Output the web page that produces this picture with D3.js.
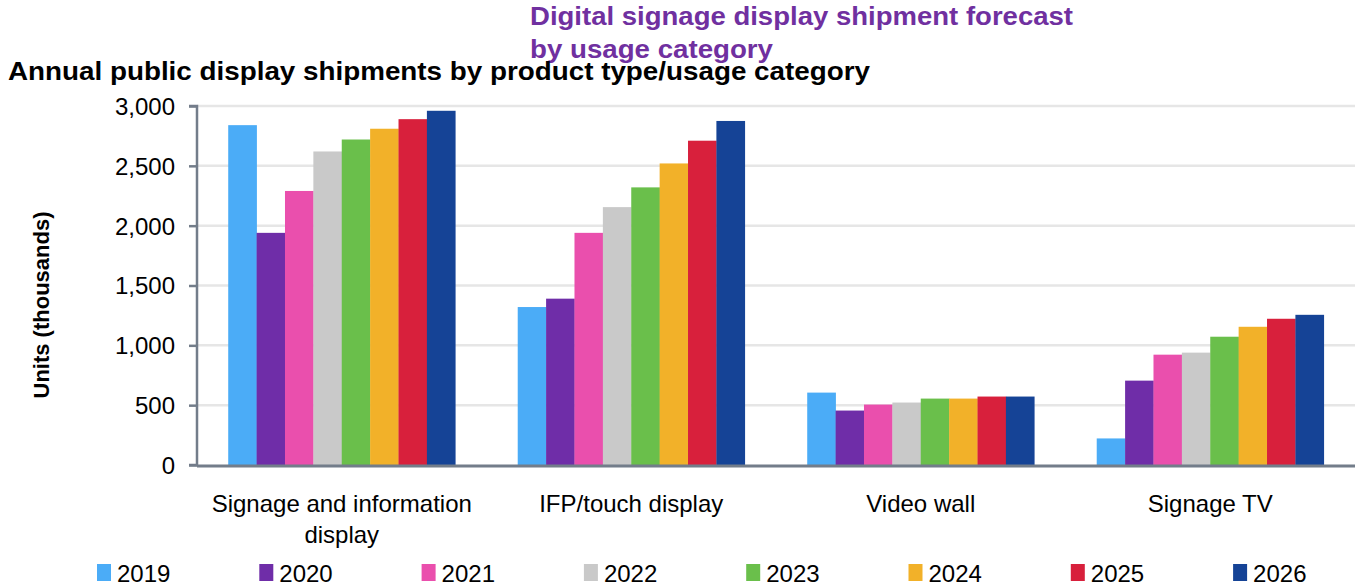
<!DOCTYPE html>
<html><head><meta charset="utf-8">
<script src="https://cdn.jsdelivr.net/npm/d3@7"></script>
<style>body{margin:0;background:#fff}svg{display:block}text{font-family:"Liberation Sans",Arial,sans-serif}</style>
</head><body>
<svg id="c" width="1356" height="587"></svg>
<script>
const categories = ["Signage and information display", "IFP/touch display", "Video wall", "Signage TV"];
const categoryLines = [["Signage and information", "display"], ["IFP/touch display"], ["Video wall"], ["Signage TV"]];
const years = ["2019", "2020", "2021", "2022", "2023", "2024", "2025", "2026"];
const v2019 = [2840, 1320, 605, 222];
const v2020 = [1940, 1390, 455, 705];
const v2021 = [2290, 1940, 505, 922];
const v2022 = [2620, 2155, 522, 939];
const v2023 = [2720, 2320, 555, 1072];
const v2024 = [2810, 2520, 555, 1155];
const v2025 = [2890, 2710, 572, 1222];
const v2026 = [2960, 2875, 572, 1255];
const yTicks = [0, 500, 1000, 1500, 2000, 2500, 3000];
const colors = ["#4BACF7", "#6F2DA8", "#EA4FAD", "#C9C9C9", "#6ABF4B", "#F2B129", "#D8203C", "#154396"];

const series = [v2019, v2020, v2021, v2022, v2023, v2024, v2025, v2026];
const svg = d3.select("#c");
const pL = 197, pR = 1355, pT = 106, pB = 465;
const FS = 24;

const x0 = d3.scaleBand().domain(categories).range([pL, pR]).padding(0);
const x1 = d3.scaleBand().domain(years).range([0, x0.bandwidth()]).paddingInner(0).paddingOuter(1.1);
const y = d3.scaleLinear().domain([0, 3000]).range([pB, pT]);
const color = d3.scaleOrdinal().domain(years).range(colors);

// gridlines
svg.append("g").selectAll("line").data(yTicks.filter(d => d > 0)).join("line")
  .attr("x1", pL).attr("x2", pR).attr("y1", d => y(d)).attr("y2", d => y(d))
  .attr("stroke", "#e6e6e6").attr("stroke-width", 2.5);

// bars
const g = svg.append("g");
categories.forEach((c, ci) => {
  g.append("g").attr("transform", `translate(${x0(c)},0)`)
    .selectAll("rect").data(years.map((yr, si) => ({yr, v: series[si][ci]}))).join("rect")
    .attr("x", d => x1(d.yr)).attr("width", x1.bandwidth() + 0.3)
    .attr("y", d => y(d.v)).attr("height", d => pB - y(d.v))
    .attr("fill", d => color(d.yr));
});

// y axis
const yAxis = d3.axisLeft(y).tickValues(yTicks).tickFormat(d3.format(",")).tickSize(8).tickPadding(14);
const ya = svg.append("g").attr("transform", `translate(${pL},0)`).call(yAxis);
ya.select(".domain").attr("stroke", "#737d8a").attr("stroke-width", 2.5).attr("d", `M-8,${pT}H0V${pB}H-8`);
ya.selectAll(".tick line").attr("stroke", "#737d8a").attr("stroke-width", 2.5);
ya.selectAll(".tick text").attr("font-size", FS).attr("fill", "#000")
  .attr("font-family", "Liberation Sans, Arial, sans-serif").attr("dy", "0.35em");

// x axis line
svg.append("line").attr("x1", pL).attr("x2", pR).attr("y1", pB + 1).attr("y2", pB + 1)
  .attr("stroke", "#737d8a").attr("stroke-width", 3);

// x labels
categories.forEach((c, ci) => {
  const cx = x0(c) + x0.bandwidth() / 2;
  const t = svg.append("text").attr("x", cx).attr("y", 512)
    .attr("text-anchor", "middle").attr("font-size", FS).attr("fill", "#000");
  categoryLines[ci].forEach((ln, li) => {
    t.append("tspan").attr("x", cx).attr("dy", li === 0 ? 0 : 31).text(ln);
  });
});

// y axis title
svg.append("text").attr("transform", "translate(49,305) rotate(-90)").attr("text-anchor", "middle")
  .attr("font-size", 22).attr("font-weight", "bold").attr("fill", "#000").text("Units (thousands)");

// purple title
svg.append("text").attr("x", 530).attr("y", 25).attr("font-size", 25).attr("font-weight", "bold")
  .attr("fill", "#7030A0").attr("textLength", 543).attr("lengthAdjust", "spacingAndGlyphs")
  .text("Digital signage display shipment forecast");
svg.append("text").attr("x", 530).attr("y", 58).attr("font-size", 25).attr("font-weight", "bold")
  .attr("fill", "#7030A0").attr("textLength", 243).attr("lengthAdjust", "spacingAndGlyphs")
  .text("by usage category");
// main title
svg.append("text").attr("x", 8).attr("y", 80).attr("font-size", 25).attr("font-weight", "bold")
  .attr("fill", "#000").attr("textLength", 862).attr("lengthAdjust", "spacingAndGlyphs")
  .text("Annual public display shipments by product type/usage category");

// legend
const lg = svg.append("g").selectAll("g").data(years).join("g")
  .attr("transform", (d, i) => `translate(${97 + i * 162.3},0)`);
lg.append("rect").attr("x", 0).attr("y", 564).attr("width", 14).attr("height", 17).attr("fill", d => color(d));
lg.append("text").attr("x", 20).attr("y", 582).attr("font-size", FS).attr("fill", "#000").text(d => d);
</script>
</body></html>
